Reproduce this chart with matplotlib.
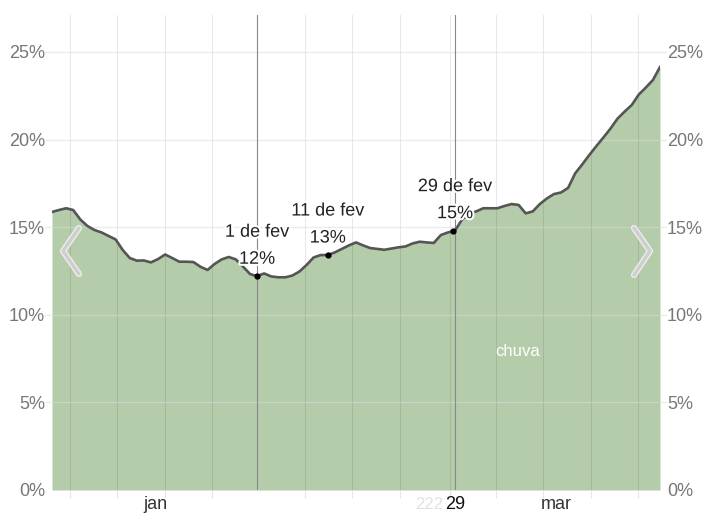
import matplotlib
matplotlib.use("Agg")
import matplotlib.pyplot as plt
import matplotlib.patheffects as pe
from matplotlib.lines import Line2D

plt.rcParams['font.family'] = ['Liberation Sans', 'DejaVu Sans']

# day index (1 = 1 jan) and chance of rain in %
days = list(range(2, 89))
chuva = [15.87, 15.98, 16.08, 15.98, 15.44, 15.07, 14.84, 14.70, 14.50, 14.30,
         13.70, 13.24, 13.09, 13.10, 12.99, 13.18, 13.44, 13.24, 13.03, 13.03,
         13.01, 12.74, 12.56, 12.90, 13.16, 13.30, 13.16, 12.76, 12.33, 12.20,
         12.36, 12.19, 12.14, 12.14, 12.24, 12.47, 12.84, 13.27, 13.41, 13.41,
         13.56, 13.76, 13.96, 14.13, 13.96, 13.81, 13.76, 13.71, 13.78, 13.85,
         13.90, 14.07, 14.17, 14.13, 14.10, 14.55, 14.70, 14.80, 15.44, 15.78,
         15.90, 16.08, 16.08, 16.08, 16.21, 16.32, 16.27, 15.79, 15.90, 16.32,
         16.64, 16.89, 16.98, 17.24, 18.07, 18.58, 19.12, 19.63, 20.12, 20.63,
         21.20, 21.60, 21.97, 22.57, 22.97, 23.40, 24.14]

# highlighted days (day, label, value label, draw cursor line)
marks = [(31, '1 de fev', '12%', True), (41, '11 de fev', '13%', False),
         (59, '29 de fev', '15%', True)]
month_labels = [(16.6, 'jan'), (73.4, 'mar')]
grid_days = [4.55, 11.2, 18.0, 24.6, 37.8, 44.4, 51.2, 58.3, 64.8, 71.4, 78.2, 84.9]
yticks = [0, 5, 10, 15, 20, 25]

fig = plt.figure(figsize=(7.14, 5.15), dpi=100)
ax = fig.add_axes([52 / 714, 25 / 515, 608 / 714, 475 / 515])

ax.fill_between(days, chuva, 0, color='#b4ccaa', lw=0, zorder=1)
ax.plot(days, chuva, color='#555555', lw=1.9, zorder=4, solid_joinstyle='round')

for g in grid_days:
    ax.axvline(g, color='black', alpha=0.09, lw=0.8, zorder=2)
for y in yticks[1:]:
    ax.axhline(y, xmin=-0.012, xmax=1.01, color='#dcdcdc', alpha=0.55, lw=0.9,
               zorder=2, clip_on=False)

ax.set_xlim(2, 88)
ax.set_ylim(0, 27.11)
for s in ax.spines.values():
    s.set_visible(False)

ax.set_xticks(grid_days)
ax.set_xticklabels([])
ax.tick_params(axis='x', length=6, color='#e6e6e6', width=0.8)
ax.set_yticks(yticks)
ax.set_yticklabels([f'{v}%' for v in yticks])
ax.tick_params(axis='y', length=0, labelsize=13, labelcolor='#777777',
               labelleft=True, labelright=True, pad=5)

halo = [pe.withStroke(linewidth=3, foreground='white')]
vals = dict(zip(days, chuva))
for d, lab, pct, cursor in marks:
    v = vals[d]
    if cursor:
        ax.axvline(d, color='#888888', lw=0.8, zorder=3)
    ax.plot([d - 0.35 if d == 59 else d], [v], 'o', color='black', ms=3.5, zorder=6)
    ax.annotate(pct, (d, v), xytext=(0, 17), textcoords='offset pixels',
                ha='center', va='center', fontsize=13, color='#222222',
                path_effects=halo, zorder=7)
    ax.annotate(lab, (d, v), xytext=(0, 44), textcoords='offset pixels',
                ha='center', va='center', fontsize=13, color='#222222',
                path_effects=halo, zorder=7)

for d, lab in month_labels:
    ax.text(d, -0.85, lab, ha='center', va='center', fontsize=13, color='#333333')
ax.text(59, -0.85, '29', ha='center', va='center', fontsize=13, color='#111111')
# faded leftover of the previous tick label
ax.text(57.35, -0.85, '222', ha='right', va='center', fontsize=12, color='#111111', alpha=0.12)

ax.text(67.9, 7.9, 'chuva', ha='center', va='center', fontsize=12, color='white')

# navigation arrows
for xs, ys in [([79, 63, 79], [228, 251, 274]), ([634, 650, 634], [228, 251, 275])]:
    fig.add_artist(Line2D([x / 714 for x in xs], [1 - y / 515 for y in ys],
                          color='#cccccc', lw=2.6, solid_capstyle='round',
                          path_effects=[pe.withStroke(linewidth=4.5, foreground='#eeeeee')],
                          alpha=0.9, zorder=10))

fig.savefig('out.png', dpi=100)
